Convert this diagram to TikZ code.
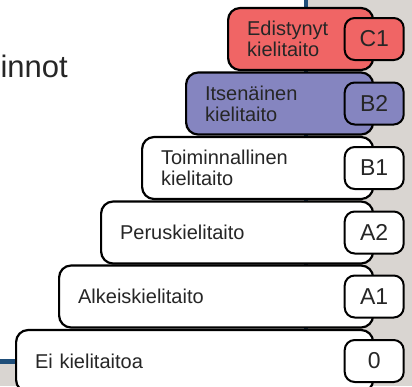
\documentclass[tikz,border=0pt]{standalone}
\usepackage{fontspec}
\setmainfont{Liberation Sans}
\usepackage{tikz}
\usetikzlibrary{positioning}
\definecolor{taustaharmaa}{HTML}{D9D5D1}
\definecolor{reunasininen}{HTML}{1F4E79}
\definecolor{tasopuna}{HTML}{F06565}
\definecolor{tasovioletti}{HTML}{8585C0}
\definecolor{tekstiharmaa}{HTML}{262626}

\begin{document}
\begin{tikzpicture}[x = 1pt, y = -1pt,
    taso/.style = {draw = black, line width = 2.2pt, rounded corners = 12pt, fill = white, anchor = west,
        minimum height = 62pt, inner xsep = 19pt, inner ysep = 0pt, text width = #1, align = left,
        text = tekstiharmaa, font = \fontsize{20}{21}\selectfont},
    merkki/.style = {draw = black, line width = 2pt, rounded corners = 10pt, fill = white,
        minimum width = 59pt, minimum height = 42pt, inner sep = 0pt,
        text = tekstiharmaa, font = \fontsize{23}{23}\selectfont}]
    % Tausta
    \clip (0,0) rectangle (412,386);
    \fill[taustaharmaa] (0,0) rectangle (412,386);
    \fill[white] (0,0) rectangle (304,359);
    \draw[reunasininen, line width = 4.2pt] (306.2,0) -- (306.2,361.5) -- (0,361.5);
    \node[anchor = base east, inner sep = 0pt, text = tekstiharmaa, font = \fontsize{31}{31}\selectfont] (otsikko) at (68,77) {innot};
    % Tasot
    \node[taso = 107pt, fill = tasopuna] (C1) at (227,39) {Edistynyt\\kielitaito};
    \node[merkki, fill = tasopuna] (C1merkki) at (C1.east) {C1};
    \node[taso = 149pt, fill = tasovioletti] (B2) at (185,103.5) {Itsenäinen\\kielitaito};
    \node[merkki, fill = tasovioletti] (B2merkki) at (B2.east) {B2};
    \node[taso = 193pt] (B1) at (141,168) {Toiminnallinen\\kielitaito};
    \node[merkki] (B1merkki) at (B1.east) {B1};
    \node[taso = 234pt] (A2) at (100,232.5) {Peruskielitaito};
    \node[merkki] (A2merkki) at (A2.east) {A2};
    \node[taso = 276pt] (A1) at (58,296.5) {Alkeiskielitaito};
    \node[merkki] (A1merkki) at (A1.east) {A1};
    \node[taso = 319pt] (E0) at (15,361) {Ei kielitaitoa};
    \node[merkki] (E0merkki) at (E0.east) {0};
\end{tikzpicture}
\end{document}
